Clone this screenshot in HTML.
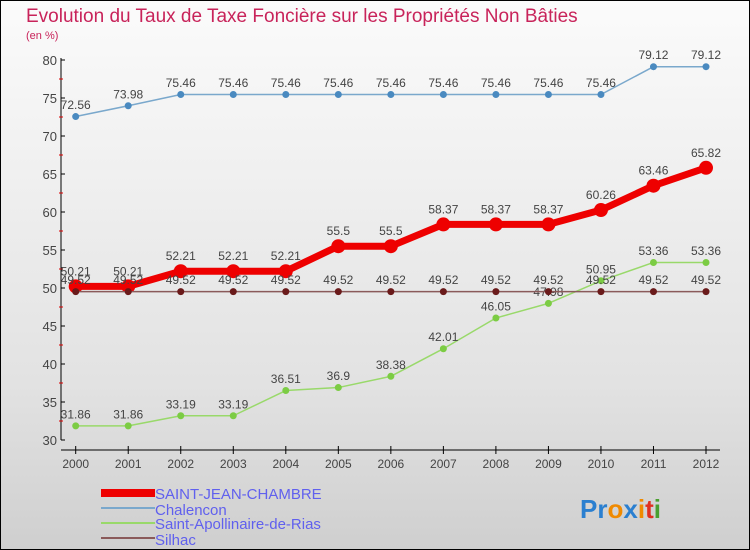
<!DOCTYPE html>
<html><head><meta charset="utf-8"><style>
html,body{margin:0;padding:0}
body{width:750px;height:550px;overflow:hidden;font-family:"Liberation Sans",sans-serif}
#wrap{position:relative;width:748px;height:548px;border:1px solid #000;background:linear-gradient(#fbfbfb,#e2e2e2 70%,#cfcfcf)}
</style></head><body>
<div id="wrap">
<svg width="748" height="548" viewBox="1 1 748 548" style="position:absolute;left:0;top:0" id="svg">
<text x="26" y="22" font-size="19" fill="#c8235a">Evolution du Taux de Taxe Foncière sur les Propriétés Non Bâties</text>
<text x="26" y="39" font-size="11" fill="#c8235a">(en %)</text>
<g id="axes"></g><g id="series"></g>
<g font-size="15" fill="#6060ee">
<rect x="101" y="489" width="54" height="8" fill="#e00"/>
<text x="155" y="499">SAINT-JEAN-CHAMBRE</text>
<rect x="101" y="507" width="54" height="2" fill="#7aa8cc"/>
<text x="155" y="515">Chalencon</text>
<rect x="101" y="522" width="54" height="2" fill="#99d96a"/>
<text x="155" y="529">Saint-Apollinaire-de-Rias</text>
<rect x="101" y="537" width="54" height="2" fill="#8a5a5a"/>
<text x="155" y="545">Silhac</text>
</g>
<text x="580" y="518" font-size="26" font-weight="bold"><tspan fill="#2a7fd0">Pr</tspan><tspan fill="#f08a00">o</tspan><tspan fill="#2a7fd0">x</tspan><tspan fill="#f08a00">i</tspan><tspan fill="#e03020">t</tspan><tspan fill="#4aa030">i</tspan></text>
</svg>
</div>
<script>
const years=[2000,2001,2002,2003,2004,2005,2006,2007,2008,2009,2010,2011,2012];
const yTicks=[30,35,40,45,50,55,60,65,70,75,80];
const saintJean=[50.21,50.21,52.21,52.21,52.21,55.5,55.5,58.37,58.37,58.37,60.26,63.46,65.82];
const chalencon=[72.56,73.98,75.46,75.46,75.46,75.46,75.46,75.46,75.46,75.46,75.46,79.12,79.12];
const apollinaire=[31.86,31.86,33.19,33.19,36.51,36.9,38.38,42.01,46.05,47.98,50.95,53.36,53.36];
const silhac=[49.52,49.52,49.52,49.52,49.52,49.52,49.52,49.52,49.52,49.52,49.52,49.52,49.52];
const NS='http://www.w3.org/2000/svg';
const xS=i=>75.7+i*(706-75.7)/(years.length-1);
const yS=v=>440-(v-30)*7.6;
function mk(t,a,p){const e=document.createElementNS(NS,t);for(const k in a)e.setAttribute(k,a[k]);p.appendChild(e);return e;}
const ax=document.getElementById('axes'),se=document.getElementById('series');
let l=mk('line',{x1:61,y1:yS(80)-2,x2:61,y2:yS(30),stroke:'#000'},ax);


l=mk('line',{x1:61,y1:450,x2:720,y2:450,stroke:'#000'},ax);


yTicks.forEach(v=>{
  mk('line',{x1:61,y1:yS(v),x2:65,y2:yS(v),stroke:'#000'},ax);
  if(v<80)mk('line',{x1:59,y1:yS(v+2.5),x2:63,y2:yS(v+2.5),stroke:'#d00'},ax);
  const t=mk('text',{x:57,y:yS(v)+5,'text-anchor':'end','font-size':13,fill:'#444'},ax);
  t.textContent=v;
  
  
});
years.forEach((y,i)=>{
  mk('line',{x1:xS(i),y1:446,x2:xS(i),y2:454,stroke:'#000'},ax);
  const t=mk('text',{x:xS(i),y:468,'text-anchor':'middle','font-size':12,fill:'#444'},ax);
  t.textContent=y;
  
  
});
function series(vals,color,w,r,name,dot){
  const g=mk('g',{},se);
  
  
  const p=mk('polyline',{points:vals.map((v,i)=>xS(i)+','+yS(v)).join(' '),fill:'none',stroke:color,'stroke-width':w,'stroke-linejoin':'round'},g);
  
  
  vals.forEach((v,i)=>{
    const c=mk('circle',{cx:xS(i),cy:yS(v),r:r,fill:dot},g);
    
    
    const t=mk('text',{x:xS(i),y:yS(v)-r-4,'text-anchor':'middle','font-size':12,fill:'#444'},g);
    t.textContent=String(v);
    
    
  });
}
series(apollinaire,'#99d96a',1.5,3.5,'saint-apollinaire','#7ccc44');
series(chalencon,'#7aa8cc',1.5,3.5,'chalencon','#4a8ac0');
series(saintJean,'#ee0000',7,7,'saint-jean','#ee0000');
series(silhac,'#8a5a5a',1.5,3.5,'silhac','#6a1a1a');
</script>
</body></html>
